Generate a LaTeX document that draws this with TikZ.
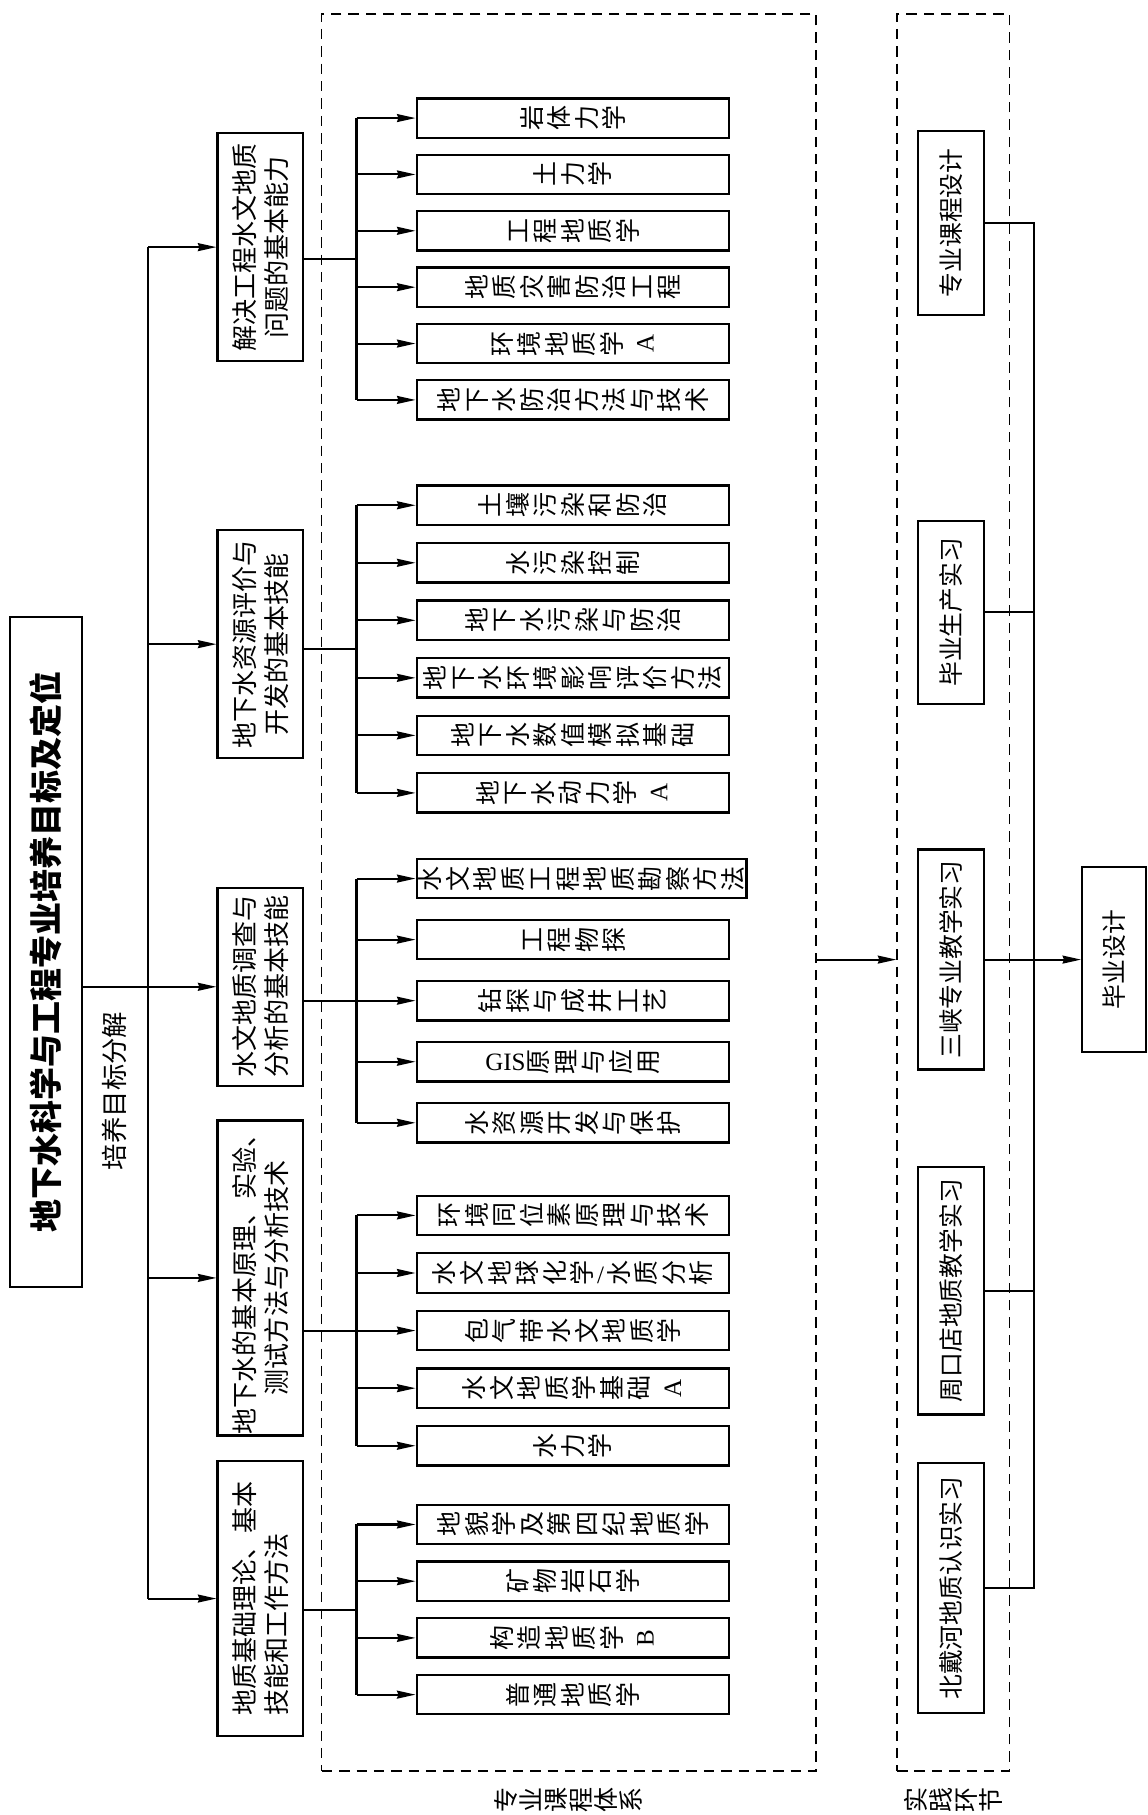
\documentclass[tikz,border=0pt]{standalone}
\usepackage{graphicx}
\usepackage{fontspec}
\setmainfont{Liberation Serif}
\newfontfamily\cjk{Noto Sans CJK SC}
\usetikzlibrary{arrows.meta,calc}

% one glyph after another, each turned a quarter
\newcommand\rc[2][.1em]{\def\rcsep{#1}\rcloop#2\relax\unskip}
\def\rcloop#1{\ifx#1\relax\else\rotatebox{90}{\rule[-.12em]{0pt}{1em}\makebox[1em]{#1}}\hspace{\rcsep}\expandafter\rcloop\fi}
\newcommand\rl[1]{\hspace{.3em}\rotatebox{90}{\rule[-.12em]{0pt}{1em}\makebox[1em]{\rmfamily #1}}}

\begin{document}
\begin{tikzpicture}[x=.5pt,y=-.5pt,line width=.9pt]
\tikzstyle{every node}=[inner sep=0pt]
\tikzstyle{box}=[draw, line width=1pt]
\tikzstyle{course}=[box, minimum width=135pt, minimum height=17pt, font=\cjk\fontsize{10.8}{12}\selectfont]
\tikzstyle{goal}=[box, rotate=90, align=center, minimum height=37pt, font=\cjk\fontsize{11.25}{14}\selectfont]
\tikzstyle{prac}=[box, rotate=90, minimum height=28.5pt, font=\cjk\fontsize{10.7}{12}\selectfont]
\tikzstyle{dashbox}=[draw, line width=.6pt, dash pattern=on 4.5pt off 3pt, minimum height=759pt]
\tikzstyle{lbl}=[font=\cjk\fontsize{10.8}{11}\selectfont]
\tikzstyle{arr}=[-{Stealth[length=8pt,width=3.4pt,inset=.6pt]}]
\useasboundingbox (0,0) rectangle (991,1568);

\draw (39.75,822.5) node (title) [box, rotate=90, minimum width=289.5pt, minimum height=31.25pt, font=\cjk\bfseries\fontsize{14.25}{16}\selectfont] {地下水科学与工程专业培养目标及定位};
\draw (99,942.5) node (fj) [rotate=90, font=\cjk\fontsize{11.4}{12}\selectfont] {培养目标分解};

\draw (225,213.5) node (g1) [goal, minimum width=98.5pt] {解决工程水文地质\\问题的基本能力};
\draw (225,556.5) node (g2) [goal, minimum width=98.5pt] {地下水资源评价与\\开发的基本技能};
\draw (225,852.5) node (g3) [goal, minimum width=85.5pt] {水文地质调查与\\分析的基本技能};
\draw (225,1104) node (g4) [goal, minimum width=136pt] {地下水的基本原理、实验、\\测试方法与分析技术};
\draw (225,1381) node (g5) [goal, minimum width=119pt, align=left] {地质基础理论、基本\\技能和工作方法};

\draw (491.5,771) node (kc) [dashbox, minimum width=213.5pt] {};
\draw (823.5,771) node (sj) [dashbox, minimum width=48.5pt] {};
\draw (491.5,1555) node (kclbl) [lbl] {\rc[0pt]{专业课程体系}};
\draw (824,1555) node (sjlbl) [lbl] {\rc[0pt]{实践环节}};

\draw (495,102) node (c11) [course] {\rc{岩体力学}};
\draw (495,150.7) node (c12) [course] {\rc{土力学}};
\draw (495,199.4) node (c13) [course] {\rc{工程地质学}};
\draw (495,248.1) node (c14) [course] {\rc{地质灾害防治工程}};
\draw (495,296.8) node (c15) [course] {\rc{环境地质学}\rl{A}};
\draw (495,345.5) node (c16) [course] {\rc{地下水防治方法与技术}};

\draw (495,436.5) node (c21) [course] {\rc{土壤污染和防治}};
\draw (495,486.2) node (c22) [course] {\rc{水污染控制}};
\draw (495,535.9) node (c23) [course] {\rc{地下水污染与防治}};
\draw (495,585.6) node (c24) [course] {\rc{地下水环境影响评价方法}};
\draw (495,635.3) node (c25) [course] {\rc{地下水数值模拟基础}};
\draw (495,685) node (c26) [course] {\rc{地下水动力学}\rl{A}};

\draw (502.5,759) node (c31) [course, minimum width=142.5pt] {\rc{水文地质工程地质勘察方法}};
\draw (495,811.75) node (c32) [course] {\rc{工程物探}};
\draw (495,864.5) node (c33) [course] {\rc{钻探与成井工艺}};
\draw (495,917.25) node (c34) [course] {\raisebox{.17em}{\rmfamily GIS}\rc{原理与应用}};
\draw (495,970) node (c35) [course] {\rc{水资源开发与保护}};

\draw (495,1050) node (c41) [course] {\rc{环境同位素原理与技术}};
\draw (495,1099.75) node (c42) [course] {\rc{水文地球化学}\hspace{.1em}\raisebox{.1em}{\rmfamily /}\hspace{.1em}\rc{水质分析}};
\draw (495,1149.5) node (c43) [course] {\rc{包气带水文地质学}};
\draw (495,1199.25) node (c44) [course] {\rc{水文地质学基础}\rl{A}};
\draw (495,1249) node (c45) [course] {\rc{水力学}};

\draw (495,1317) node (c51) [course] {\rc{地貌学及第四纪地质学}};
\draw (495,1366) node (c52) [course] {\rc{矿物岩石学}};
\draw (495,1415) node (c53) [course] {\rc{构造地质学}\rl{B}};
\draw (495,1464) node (c54) [course] {\rc{普通地质学}};

\draw (821.5,192.5) node (p1) [prac, minimum width=79.5pt] {专业课程设计};
\draw (821.5,529) node (p2) [prac, minimum width=79pt] {毕业生产实习};
\draw (821.5,829) node (p3) [prac, minimum width=95pt] {三峡专业教学实习};
\draw (821.5,1115) node (p4) [prac, minimum width=107pt] {周口店地质教学实习};
\draw (821.5,1372) node (p5) [prac, minimum width=108pt] {北戴河地质认识实习};
\draw (962.5,829) node (bysj) [prac, minimum width=80pt, minimum height=27.5pt] {毕业设计};

\coordinate (trunk) at (128,0);
\coordinate (bus) at (308,0);
\coordinate (col) at (893,0);

% goals
\draw (trunk |- g1.north) -- (trunk |- g5.north);
\draw[arr] (title.south |- g3.north) -- (g3.north);
\foreach \g in {g1,g2,g4,g5}
  \draw[arr] (trunk |- \g.north) -- (\g.north);

% courses
\foreach \g/\n/\a/\b in {1/6/3/4,2/6/3/4,3/5/3/3,4/5/3/3,5/4/2/3} {
  \coordinate (m\g) at ($(c\g\a)!.5!(c\g\b)$);
  \draw (g\g.south |- m\g) -- (bus |- m\g);
  \draw (bus |- c\g1) -- (bus |- c\g\n);
  \foreach \i in {1,...,\n}
    \draw[arr] (bus |- c\g\i) -- (c\g\i.west);
}

% practice
\draw[arr] (kc.east |- p3) -- (sj.west |- p3);
\draw (p1.south) -- (col |- p1) -- (col |- p5) -- (p5.south);
\draw (p2.south) -- (col |- p2);
\draw (p4.south) -- (col |- p4);
\draw[arr] (p3.south) -- (bysj.north);
\end{tikzpicture}
\end{document}
